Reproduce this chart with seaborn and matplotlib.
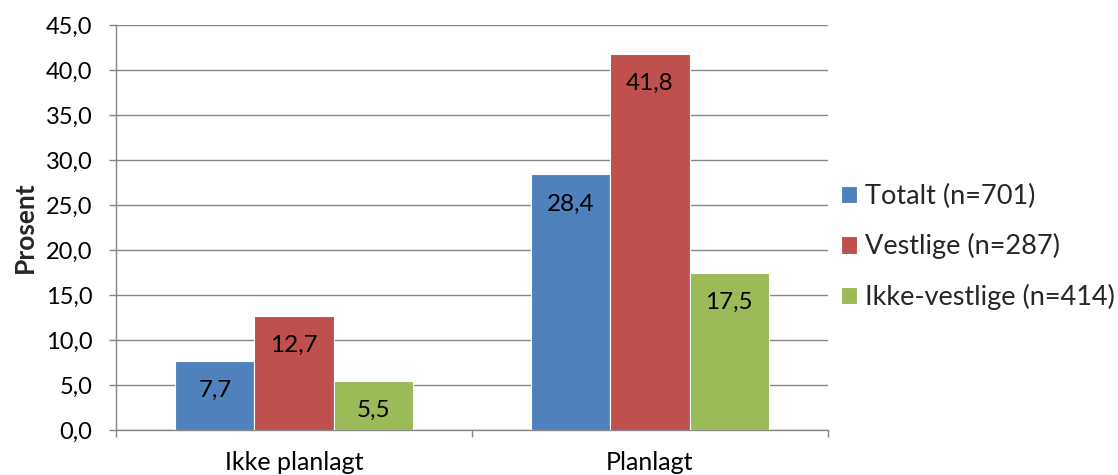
import matplotlib
matplotlib.use("Agg")
import matplotlib.pyplot as plt
import seaborn as sns
import pandas as pd
from matplotlib.ticker import FixedLocator

categories = ["Ikke planlagt", "Planlagt"]
groups = ["Totalt (n=701)", "Vestlige (n=287)", "Ikke-vestlige (n=414)"]
totalt = [7.7, 28.4]
vestlige = [12.7, 41.8]
ikke_vestlige = [5.5, 17.5]
yticks = [0, 5, 10, 15, 20, 25, 30, 35, 40, 45]

colors = ["#4F81BD", "#C0504D", "#9BBB59"]

rows = []
for g, vals in zip(groups, [totalt, vestlige, ikke_vestlige]):
    for c, v in zip(categories, vals):
        rows.append({"Kategori": c, "Gruppe": g, "Prosent": v})
df = pd.DataFrame(rows)

sns.set_theme(style="white")
plt.rcParams["font.family"] = ["Lato", "DejaVu Sans"]

fig = plt.figure(figsize=(11.18, 4.75), dpi=100)
ax = fig.add_axes([116 / 1118, 45 / 475, 712 / 1118, 405 / 475])

sns.barplot(data=df, x="Kategori", y="Prosent", hue="Gruppe",
            order=categories, hue_order=groups, palette=colors,
            width=0.666, gap=0, saturation=1, errorbar=None,
            edgecolor="white", linewidth=0.8, ax=ax, zorder=3)

ax.set_xlim(-0.5, 1.5)
ax.set_ylim(0, 45)
ax.yaxis.set_major_locator(FixedLocator(yticks))
ax.set_yticklabels([f"{t:.1f}".replace(".", ",") for t in yticks], fontsize=17, color="black")
ax.grid(axis="y", color="#868686", linewidth=1, zorder=0)
ax.set_axisbelow(True)

for s in ["top", "right"]:
    ax.spines[s].set_visible(False)
for s in ["left", "bottom"]:
    ax.spines[s].set_color("#868686")
    ax.spines[s].set_linewidth(1)

ax.tick_params(axis="y", which="major", length=5, width=1, color="#868686", direction="out", pad=12, left=True)
ax.tick_params(axis="x", which="major", length=0, labelsize=18, pad=15, labelcolor="black")
ax.xaxis.set_minor_locator(FixedLocator([-0.5, 0.5, 1.5]))
ax.tick_params(axis="x", which="minor", length=5, width=1, color="#868686", direction="out", bottom=True)

ax.set_xlabel("")
ax.set_ylabel("Prosent", fontsize=19, fontweight="bold", labelpad=6)

for cont in ax.containers:
    for bar in cont:
        h = bar.get_height()
        ax.annotate(f"{h:.1f}".replace(".", ","),
                    (bar.get_x() + bar.get_width() / 2, h),
                    xytext=(0, -30), textcoords="offset pixels",
                    ha="center", va="center", fontsize=17.5, color="black", zorder=5)

handles, labels = ax.get_legend_handles_labels()
ax.legend(handles, labels, loc="center left", bbox_to_anchor=(1.018, 0.452),
          frameon=False, fontsize=19.5, handlelength=0.6, handleheight=0.6,
          handletextpad=0.3, labelspacing=0.9, borderaxespad=0, borderpad=0)

fig.savefig("out.png", dpi=100)
